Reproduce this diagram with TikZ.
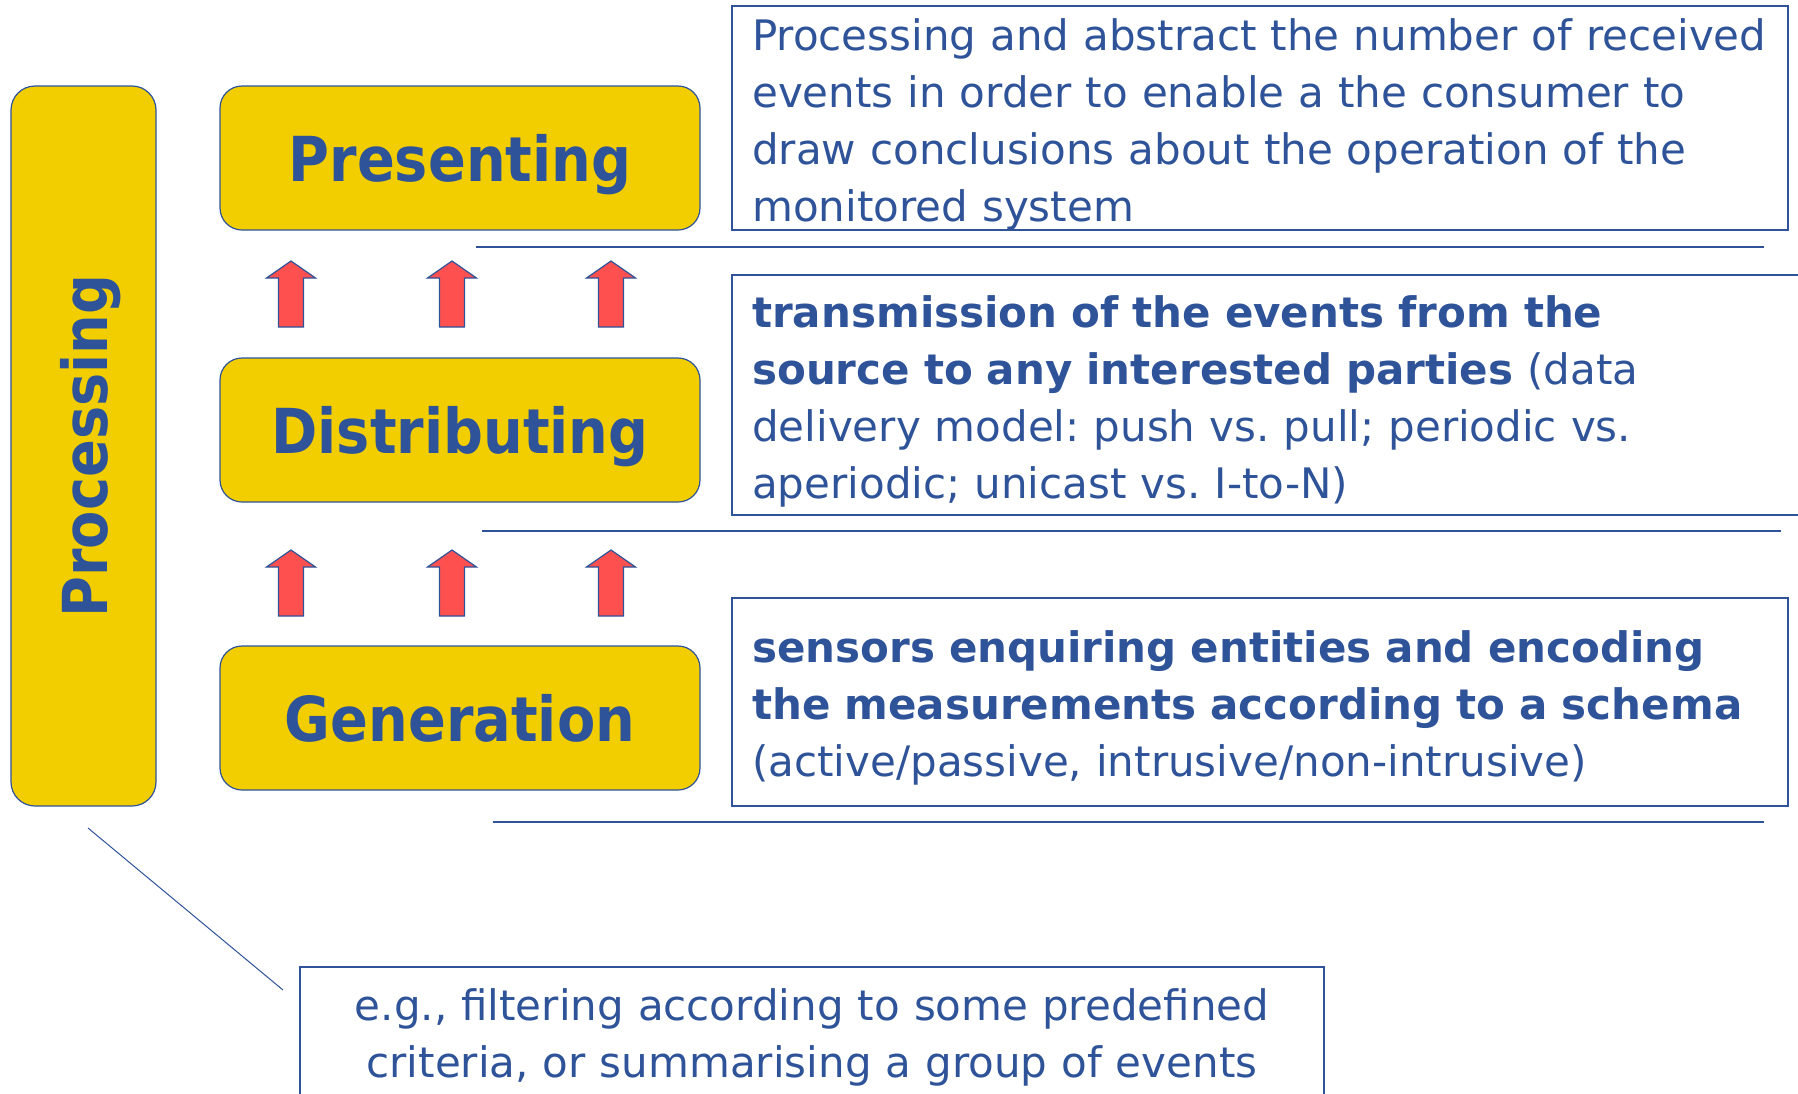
\documentclass[tikz,border=0pt]{standalone}
\usepackage{fontspec}
\setmainfont{DejaVu Sans}
\newfontfamily\stagefont{DejaVu Sans}[FakeStretch=0.9]
\usepackage{xcolor}
\usetikzlibrary{calc}
\frenchspacing

\definecolor{stageyellow}{RGB}{242,206,0}
\definecolor{textblue}{RGB}{46,83,153}
\definecolor{arrowred}{RGB}{255,80,80}

\tikzset{
  stagebox/.style={draw=textblue, line width=1.2pt, fill=stageyellow, rounded corners=22pt,
    text=textblue, font=\stagefont\bfseries\fontsize{62}{62}\selectfont, text depth=0pt},
  descbox/.style={draw=textblue, line width=1.8pt},
  desctext/.style={text=textblue, font=\fontsize{42}{57}\selectfont, text width=1030pt,
    align=left, anchor=base west, inner sep=0pt},
  sepline/.style={draw=textblue, line width=1.8pt},
  uparrow/.style={draw=textblue, line width=1.2pt, fill=arrowred},
}

\begin{document}
\begin{tikzpicture}[x=1pt,y=-1pt]
\useasboundingbox (0,0) rectangle (1798,1093);

% stages
\node[stagebox, minimum width=145pt, minimum height=720pt, rounded corners=24pt] (proc) at (83.5,446) {};
\node[text=textblue, font=\stagefont\bfseries\fontsize{62}{62}\selectfont, text depth=0pt, rotate=90] (proclabel) at (proc.center) {Processing};
\node[stagebox, minimum width=480pt, minimum height=144pt] (present) at (460,158) {Presenting};
\node[stagebox, minimum width=480pt, minimum height=144pt] (distrib) at (460,430) {Distributing};
\node[stagebox, minimum width=480pt, minimum height=144pt] (generate) at (460,718) {Generation};

% arrows
\foreach \x in {291,452,611}
  \foreach \y in {327,616}
    \draw[uparrow] (\x-12.5,\y) -- ++(0,-49) -- ++(-12,0) -- (\x,\y-66) -- (\x+24.5,\y-49)
      -- ++(-12,0) -- ++(0,49) -- cycle;

% descriptions
\node[descbox, minimum width=1056pt, minimum height=224pt] (presbox) at (1260,118) {};
\node[desctext] (prestext) at (752,50) {Processing and abstract the number of received\\
events in order to enable a the consumer to\\
draw conclusions about the operation of the\\
monitored system};
\draw[sepline] (476,247) -- (1764,247);

\node[descbox, minimum width=1078pt, minimum height=240pt] (distbox) at (1271,395) {};
\node[desctext] (disttext) at (752,327) {{\bfseries transmission of the events from the\\
source to any interested parties} (data\\
delivery model: push vs. pull; periodic vs.\\
aperiodic; unicast vs. I-to-N)};
\draw[sepline] (482,531) -- (1781,531);

\node[descbox, minimum width=1056pt, minimum height=208pt] (genbox) at (1260,702) {};
\node[desctext] (gentext) at (752,662) {{\bfseries sensors enquiring entities and encoding\\
the measurements according to a schema}\\
(active/passive, intrusive/non-intrusive)};
\draw[sepline] (493,822) -- (1764,822);

% note on processing
\node[descbox, minimum width=1024pt, minimum height=132pt] (notebox) at (812,1033) {};
\node[desctext, align=center, anchor=base, text width=1000pt] (notetext) at (812,1020) {e.g., filtering according to some predefined\\
criteria, or summarising a group of events};
\coordinate (calltop) at (88,828);
\coordinate (callend) at (283,990);
\draw[textblue, line width=1pt] (calltop) -- (callend);
\end{tikzpicture}
\end{document}
